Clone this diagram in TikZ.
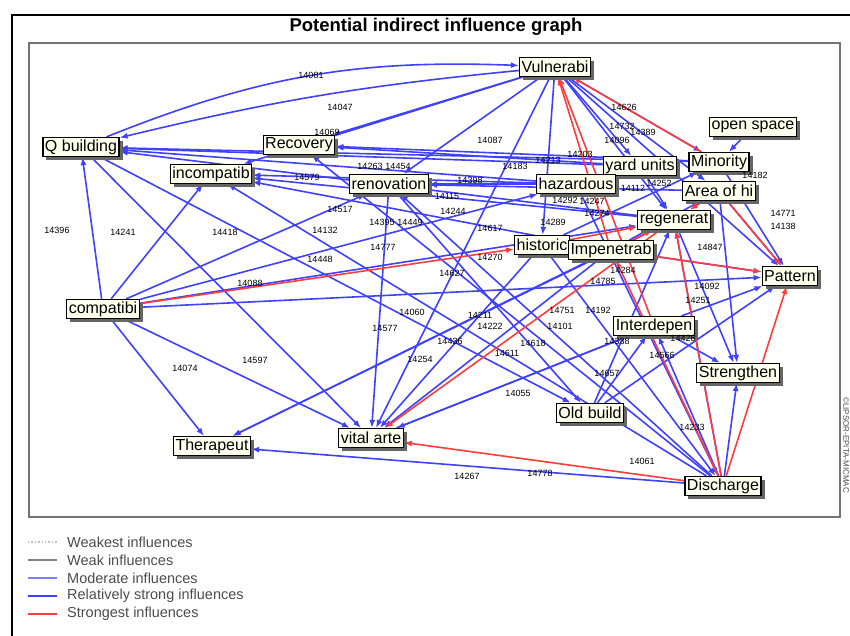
\documentclass[tikz,border=0pt]{standalone}
\usepackage{fontspec}
\setmainfont{Liberation Sans}
\usetikzlibrary{arrows.meta, shadows, backgrounds}

\definecolor{strongblue}{RGB}{64,64,255}
\definecolor{modblue}{RGB}{125,125,255}
\definecolor{strongred}{RGB}{255,60,60}
\definecolor{boxfill}{RGB}{255,255,238}

\begin{document}
\begin{tikzpicture}[x=1pt, y=-1pt,
  factor/.style={draw, line width=1.2pt, fill=boxfill, inner xsep=2pt, inner ysep=1pt,
                 minimum height=19pt, font=\fontsize{16}{18}\selectfont,
                 drop shadow={shadow xshift=3.5pt, shadow yshift=-3.5pt, fill=black!60, opacity=1}},
  relstrong/.style={draw=strongblue, line width=1.6pt, -{Latex[length=8pt, width=6pt]}},
  strongest/.style={draw=strongred, line width=1.6pt, -{Latex[length=8pt, width=6pt]}},
  val/.style={font=\fontsize{9}{10}\selectfont, inner sep=0pt},
  legtext/.style={font=\fontsize{14.5}{16}\selectfont, text=black!70, anchor=west, inner sep=0pt}]
\useasboundingbox (0,0) rectangle (850,635);

% frames and title
\draw[line width=2pt] (12,650) -- (12,15) -- (870,15);
\draw[black!55, line width=2pt] (29,43) rectangle (840,517);
\node[font=\fontsize{18.5}{20}\selectfont\bfseries] (title) at (436,27) {Potential indirect influence graph};
\node[font=\fontsize{8}{9}\selectfont, rotate=-90, text=black!70] (copy) at (846,445) {©LIPSOR-EPITA-MICMAC};

% factors
\node[factor] (qbuild) at (81,147) {Q building};
\node[factor] (recov) at (299,145) {Recovery};
\node[factor] (incomp) at (211,174) {incompatib};
\node[factor] (renov) at (389,184) {renovation};
\node[factor] (vul) at (555,67) {Vulnerabi};
\node[factor] (opsp) at (753,127) {open space};
\node[factor] (yard) at (640,166) {yard units};
\node[factor] (haz) at (576,184) {hazardous};
\node[factor] (mino) at (719,162) {Minority};
\node[factor] (area) at (719,191) {Area of hi};
\node[factor] (regen) at (674,220) {regenerat};
\node[factor] (hist) at (542,245) {historic};
\node[factor] (impen) at (611,250) {Impenetrab};
\node[factor] (patt) at (790,276) {Pattern};
\node[factor] (compa) at (103,309) {compatibi};
\node[factor] (inter) at (654,326) {Interdepen};
\node[factor] (stren) at (738,373) {Strengthen};
\node[factor] (oldb) at (590,413) {Old build};
\node[factor] (vital) at (371,438) {vital arte};
\node[factor] (thera) at (212,446) {Therapeut};
\node[factor] (disc) at (723,486) {Discharge};

% influences
\begin{pgfonlayer}{background}
\draw[relstrong] (qbuild) to[bend left=12] (vul);
\draw[relstrong] (vul) to[bend right=4] (qbuild);
\draw[relstrong] (vul) -- (recov);
\draw[relstrong] (vul) -- (renov);
\draw[relstrong] (vul) -- (incomp);
\draw[relstrong] (vul) -- (hist);
\draw[relstrong] (vul) -- (vital);
\draw[relstrong] (vul) -- (yard);
\draw[relstrong] (vul) -- (mino);
\draw[relstrong] (vul) -- (area);
\draw[relstrong] (vul) -- (regen);
\draw[relstrong] (vul) -- (patt);
\draw[relstrong] (mino) -- (qbuild);
\draw[relstrong] (yard) -- (qbuild);
\draw[relstrong] (haz) -- (qbuild);
\draw[relstrong] (regen) -- (qbuild);
\draw[relstrong] (mino) -- (recov);
\draw[relstrong] (yard) -- (recov);
\draw[relstrong] (haz) -- (renov);
\draw[relstrong] (area) -- (renov);
\draw[relstrong] (haz) -- (incomp);
\draw[relstrong] (regen) -- (incomp);
\draw[relstrong] (impen) -- (incomp);
\draw[relstrong] (compa) -- (qbuild);
\draw[relstrong] (compa) -- (incomp);
\draw[relstrong] (compa) -- (renov);
\draw[relstrong] (compa) -- (haz);
\draw[relstrong] (compa) -- (regen);
\draw[relstrong] (compa) -- (patt);
\draw[relstrong] (compa) -- (thera);
\draw[relstrong] (compa) -- (vital);
\draw[relstrong] (qbuild) -- (vital);
\draw[relstrong] (qbuild) -- (oldb);
\draw[relstrong] (disc) -- (incomp);
\draw[relstrong] (disc) -- (recov);
\draw[relstrong] (disc) -- (renov);
\draw[relstrong] (renov) -- (vital);
\draw[relstrong] (renov) -- (oldb);
\draw[relstrong] (hist) -- (vital);
\draw[relstrong] (impen) -- (vital);
\draw[relstrong] (inter) -- (vital);
\draw[relstrong] (regen) -- (thera);
\draw[relstrong] (impen) -- (thera);
\draw[relstrong] (disc) -- (thera);
\draw[relstrong] (disc) -- (stren);
\draw[relstrong] (area) -- (stren);
\draw[relstrong] (regen) -- (stren);
\draw[relstrong] (inter) -- (stren);
\draw[relstrong] (opsp) -- (mino);
\draw[relstrong] (mino) -- (patt);
\draw[relstrong] (area) -- (patt);
\draw[relstrong] (impen) -- (patt);
\draw[relstrong] (inter) -- (patt);
\draw[relstrong] (oldb) -- (patt);
\draw[relstrong] (oldb) -- (inter);
\draw[relstrong] (oldb) -- (regen);
\draw[relstrong] (disc) -- (inter);
\draw[relstrong] (disc) -- (regen);
\draw[relstrong] (hist) -- (disc);
\draw[relstrong] (haz) -- (disc);
\draw[relstrong] (yard) -- (regen);
\draw[relstrong] (hist) -- (mino);
\draw[relstrong] (impen) -- (area);
\draw[relstrong] (vital) -- (inter);
\draw[strongest] (impen) -- (vul);
\draw[strongest] (inter) -- (vul);
\draw[strongest] (mino) -- (vul);
\draw[strongest] (compa) -- (hist);
\draw[strongest] (regen) -- (vital);
\draw[strongest] (disc) -- (vital);
\draw[strongest] (disc) -- (patt);
\draw[strongest] (disc) -- (regen);
\draw[strongest] (disc) -- (impen);
\draw[strongest] (impen) -- (patt);
\draw[strongest] (area) -- (patt);
\draw[strongest] (impen) -- (regen);
\draw[strongest] (area) -- (regen);
\draw[strongest] (hist) -- (regen);
\end{pgfonlayer}

% values
\node[val] at (311,75) {14081};
\node[val] at (340,107) {14047};
\node[val] at (327,132) {14069};
\node[val] at (490,140) {14087};
\node[val] at (515,166) {14183};
\node[val] at (548,160) {14213};
\node[val] at (580,154) {14203};
\node[val] at (624,107) {14626};
\node[val] at (622,126) {14732};
\node[val] at (643,132) {14389};
\node[val] at (617,140) {14096};
\node[val] at (470,180) {14398};
\node[val] at (307,177) {14579};
\node[val] at (370,166) {14263};
\node[val] at (398,166) {14454};
\node[val] at (447,196) {14115};
\node[val] at (453,211) {14244};
\node[val] at (340,209) {14517};
\node[val] at (382,222) {14395};
\node[val] at (410,222) {14449};
\node[val] at (325,230) {14132};
\node[val] at (225,232) {14418};
\node[val] at (123,232) {14241};
\node[val] at (57,230) {14396};
\node[val] at (383,247) {14777};
\node[val] at (320,259) {14448};
\node[val] at (250,283) {14088};
\node[val] at (412,312) {14060};
\node[val] at (385,328) {14577};
\node[val] at (255,360) {14597};
\node[val] at (185,368) {14074};
\node[val] at (420,359) {14254};
\node[val] at (450,341) {14436};
\node[val] at (480,315) {14211};
\node[val] at (490,326) {14222};
\node[val] at (507,353) {14611};
\node[val] at (533,343) {14618};
\node[val] at (562,310) {14751};
\node[val] at (560,326) {14101};
\node[val] at (598,310) {14192};
\node[val] at (452,273) {14627};
\node[val] at (603,281) {14785};
\node[val] at (490,257) {14270};
\node[val] at (623,270) {14284};
\node[val] at (707,286) {14092};
\node[val] at (698,300) {14251};
\node[val] at (710,247) {14847};
\node[val] at (783,213) {14771};
\node[val] at (783,226) {14138};
\node[val] at (518,393) {14055};
\node[val] at (607,373) {14657};
\node[val] at (662,355) {14566};
\node[val] at (692,427) {14233};
\node[val] at (642,461) {14061};
\node[val] at (467,476) {14267};
\node[val] at (540,473) {14778};
\node[val] at (617,341) {14338};
\node[val] at (683,338) {14428};
\node[val] at (565,200) {14292};
\node[val] at (592,201) {14247};
\node[val] at (633,188) {14112};
\node[val] at (659,183) {14252};
\node[val] at (553,222) {14289};
\node[val] at (597,213) {14274};
\node[val] at (490,228) {14617};
\node[val] at (755,175) {14182};

% legend
\draw[black!25, line width=1.4pt, dotted] (28,542) -- (57,542);
\draw[black!50, line width=1.4pt] (28,560) -- (57,560);
\draw[modblue, line width=1.4pt] (28,578) -- (57,578);
\draw[strongblue, line width=2.2pt] (28,596) -- (57,596);
\draw[strongred, line width=2.2pt] (28,614) -- (57,614);
\node[legtext] (weakest) at (67,542) {Weakest influences};
\node[legtext] (weak) at (67,560) {Weak influences};
\node[legtext] (moderate) at (67,578) {Moderate influences};
\node[legtext] (relstr) at (67,596) {Relatively strong influences};
\node[legtext] (strongst) at (67,614) {Strongest influences};
\end{tikzpicture}
\end{document}
